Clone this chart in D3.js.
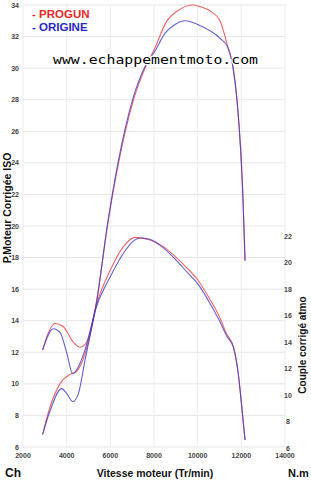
<!DOCTYPE html>
<html><head><meta charset="utf-8">
<script src="https://cdn.jsdelivr.net/npm/d3@7"></script>
<style>body{margin:0;background:#fff}svg{display:block}</style>
</head><body><svg id="c" width="311" height="480"></svg>
<script>
const xTicks = [2000,4000,6000,8000,10000,12000,14000];
const leftTicks = [6,8,10,12,14,16,18,20,22,24,26,28,30,32,34];
const rightTicks = [6,8,10,12,14,16,18,20,22];

const powerProgunRpm = [2900,3240,3690,4150,4460,4840,5375,5890,6350,7040,7590,8050,8550,9100,9800,10100,10600,11020,11390,11620,11800,11970,12080,12170];
const powerProgun    = [6.8,8.55,10.0,10.6,10.8,11.9,15.3,20.2,23.8,27.9,30.0,31.3,32.9,33.65,34.0,33.9,33.6,33.0,31.3,30.05,28.0,24.8,21.6,17.8];
const powerOrigineRpm = [2900,3240,3770,4000,4280,4540,4840,5375,5890,6350,7040,7590,8050,8500,9000,9420,10100,11020,11390,11620,11800,11970,12080,12170];
const powerOrigine    = [6.8,8.3,9.7,9.4,8.87,9.4,11.5,15.2,20.3,24.0,28.1,30.1,31.1,32.2,32.8,33.0,32.7,31.9,31.3,30.05,28.0,24.8,21.6,17.8];

const torqueProgunRpm = [2900,3160,3470,3850,4300,4610,4920,5375,5990,6600,7130,7820,8430,9000,9500,10000,10500,11000,11330,11630,11860,12020,12170];
const torqueProgun    = [13.4,14.7,15.4,15.15,14.0,13.6,14.0,16.9,19.4,21.2,21.9,21.7,21.2,20.4,19.6,18.7,17.4,15.9,14.6,13.65,11.6,9.1,6.6];
const torqueOrigineRpm = [2900,3390,3700,4000,4280,4530,4840,5375,5990,6600,7360,7800,8430,9000,9500,10000,10500,11000,11330,11630,11860,12020,12170];
const torqueOrigine    = [13.4,15.0,14.7,13.2,11.6,12.1,13.4,16.7,18.9,20.7,21.85,21.75,21.1,20.2,19.3,18.4,17.1,15.6,14.45,13.65,11.6,9.1,6.6];

const svg = d3.select("#c");
const x = d3.scaleLinear().domain([2000,14000]).range([23,285]);
const yL = d3.scaleLinear().domain([6,34]).range([447,5]);
const yR = d3.scaleLinear().domain([6,22]).range([448,236]);

// grid
svg.append("g").selectAll("line").data(leftTicks).join("line")
  .attr("x1",x(2000)).attr("x2",x(14000)).attr("y1",d=>yL(d)).attr("y2",d=>yL(d))
  .attr("stroke","#e6e6e6").attr("stroke-width",1);
svg.append("g").selectAll("line").data(xTicks).join("line")
  .attr("x1",d=>x(d)).attr("x2",d=>x(d)).attr("y1",yL(34)).attr("y2",yL(6))
  .attr("stroke","#ececec").attr("stroke-width",1);

// tick labels
const tickFont = "Liberation Sans, Arial, sans-serif";
svg.append("g").selectAll("text").data(leftTicks).join("text")
  .attr("x",19).attr("y",d=>yL(d)+2.5).attr("text-anchor","end")
  .attr("font-family",tickFont).attr("font-size",7).attr("font-weight","bold").attr("fill","#444")
  .text(d=>d);
svg.append("g").selectAll("text").data(rightTicks).join("text")
  .attr("x",288).attr("y",d=>yR(d)+2.5).attr("text-anchor","middle")
  .attr("font-family",tickFont).attr("font-size",7).attr("font-weight","bold").attr("fill","#444")
  .text(d=>d);
svg.append("g").selectAll("text").data(xTicks).join("text")
  .attr("x",d=>x(d)).attr("y",458).attr("text-anchor","middle")
  .attr("font-family",tickFont).attr("font-size",7).attr("font-weight","bold").attr("fill","#444")
  .text(d=>d);

// curves
function drawLine(rpm, vals, yScale, color){
  const data = rpm.map((r,i)=>[r, vals[i]]);
  svg.append("path").datum(data)
    .attr("fill","none").attr("stroke",color).attr("stroke-width",1.1).attr("stroke-opacity",0.8)
    .attr("d", d3.line().x(d=>x(d[0])).y(d=>yScale(d[1])).curve(d3.curveMonotoneX));
}
const red = "#f03c3c", blue = "#3a3ac8";
drawLine(powerProgunRpm, powerProgun, yL, red);
drawLine(torqueProgunRpm, torqueProgun, yR, red);
drawLine(powerOrigineRpm, powerOrigine, yL, blue);
drawLine(torqueOrigineRpm, torqueOrigine, yR, blue);

// watermark
svg.append("text").attr("x",53).attr("y",64)
  .attr("font-family","DejaVu Sans Mono, monospace").attr("font-size",13)
  .attr("textLength",205).attr("lengthAdjust","spacingAndGlyphs")
  .attr("fill","#000").attr("stroke","#fff").attr("stroke-width",2.5).attr("paint-order","stroke")
  .text("www.echappementmoto.com");

// legend
const lf = "Liberation Sans, Arial, sans-serif";
svg.append("text").attr("x",32).attr("y",18).attr("font-family",lf).attr("font-size",11.5)
  .attr("font-weight","bold").attr("fill","#e82828").text("- PROGUN");
svg.append("text").attr("x",32).attr("y",31).attr("font-family",lf).attr("font-size",11.5)
  .attr("font-weight","bold").attr("fill","#2828c8").text("- ORIGINE");

// axis titles
svg.append("text").attr("transform","translate(11,208) rotate(-90)").attr("text-anchor","middle")
  .attr("font-family",lf).attr("font-size",10.5).attr("font-weight","bold").attr("fill","#111")
  .text("P.Moteur Corrigée ISO");
svg.append("text").attr("transform","translate(306,345) rotate(-90)").attr("text-anchor","middle")
  .attr("font-family",lf).attr("font-size",10).attr("font-weight","bold").attr("fill","#111")
  .text("Couple corrigé atmo");
svg.append("text").attr("x",155).attr("y",477).attr("text-anchor","middle")
  .attr("font-family",lf).attr("font-size",10.5).attr("font-weight","bold").attr("fill","#111")
  .text("Vitesse moteur (Tr/min)");
svg.append("text").attr("x",5).attr("y",477)
  .attr("font-family",lf).attr("font-size",12).attr("font-weight","bold").attr("fill","#111")
  .text("Ch");
svg.append("text").attr("x",288).attr("y",477)
  .attr("font-family",lf).attr("font-size",11).attr("font-weight","bold").attr("fill","#111")
  .text("N.m");
</script></body></html>
